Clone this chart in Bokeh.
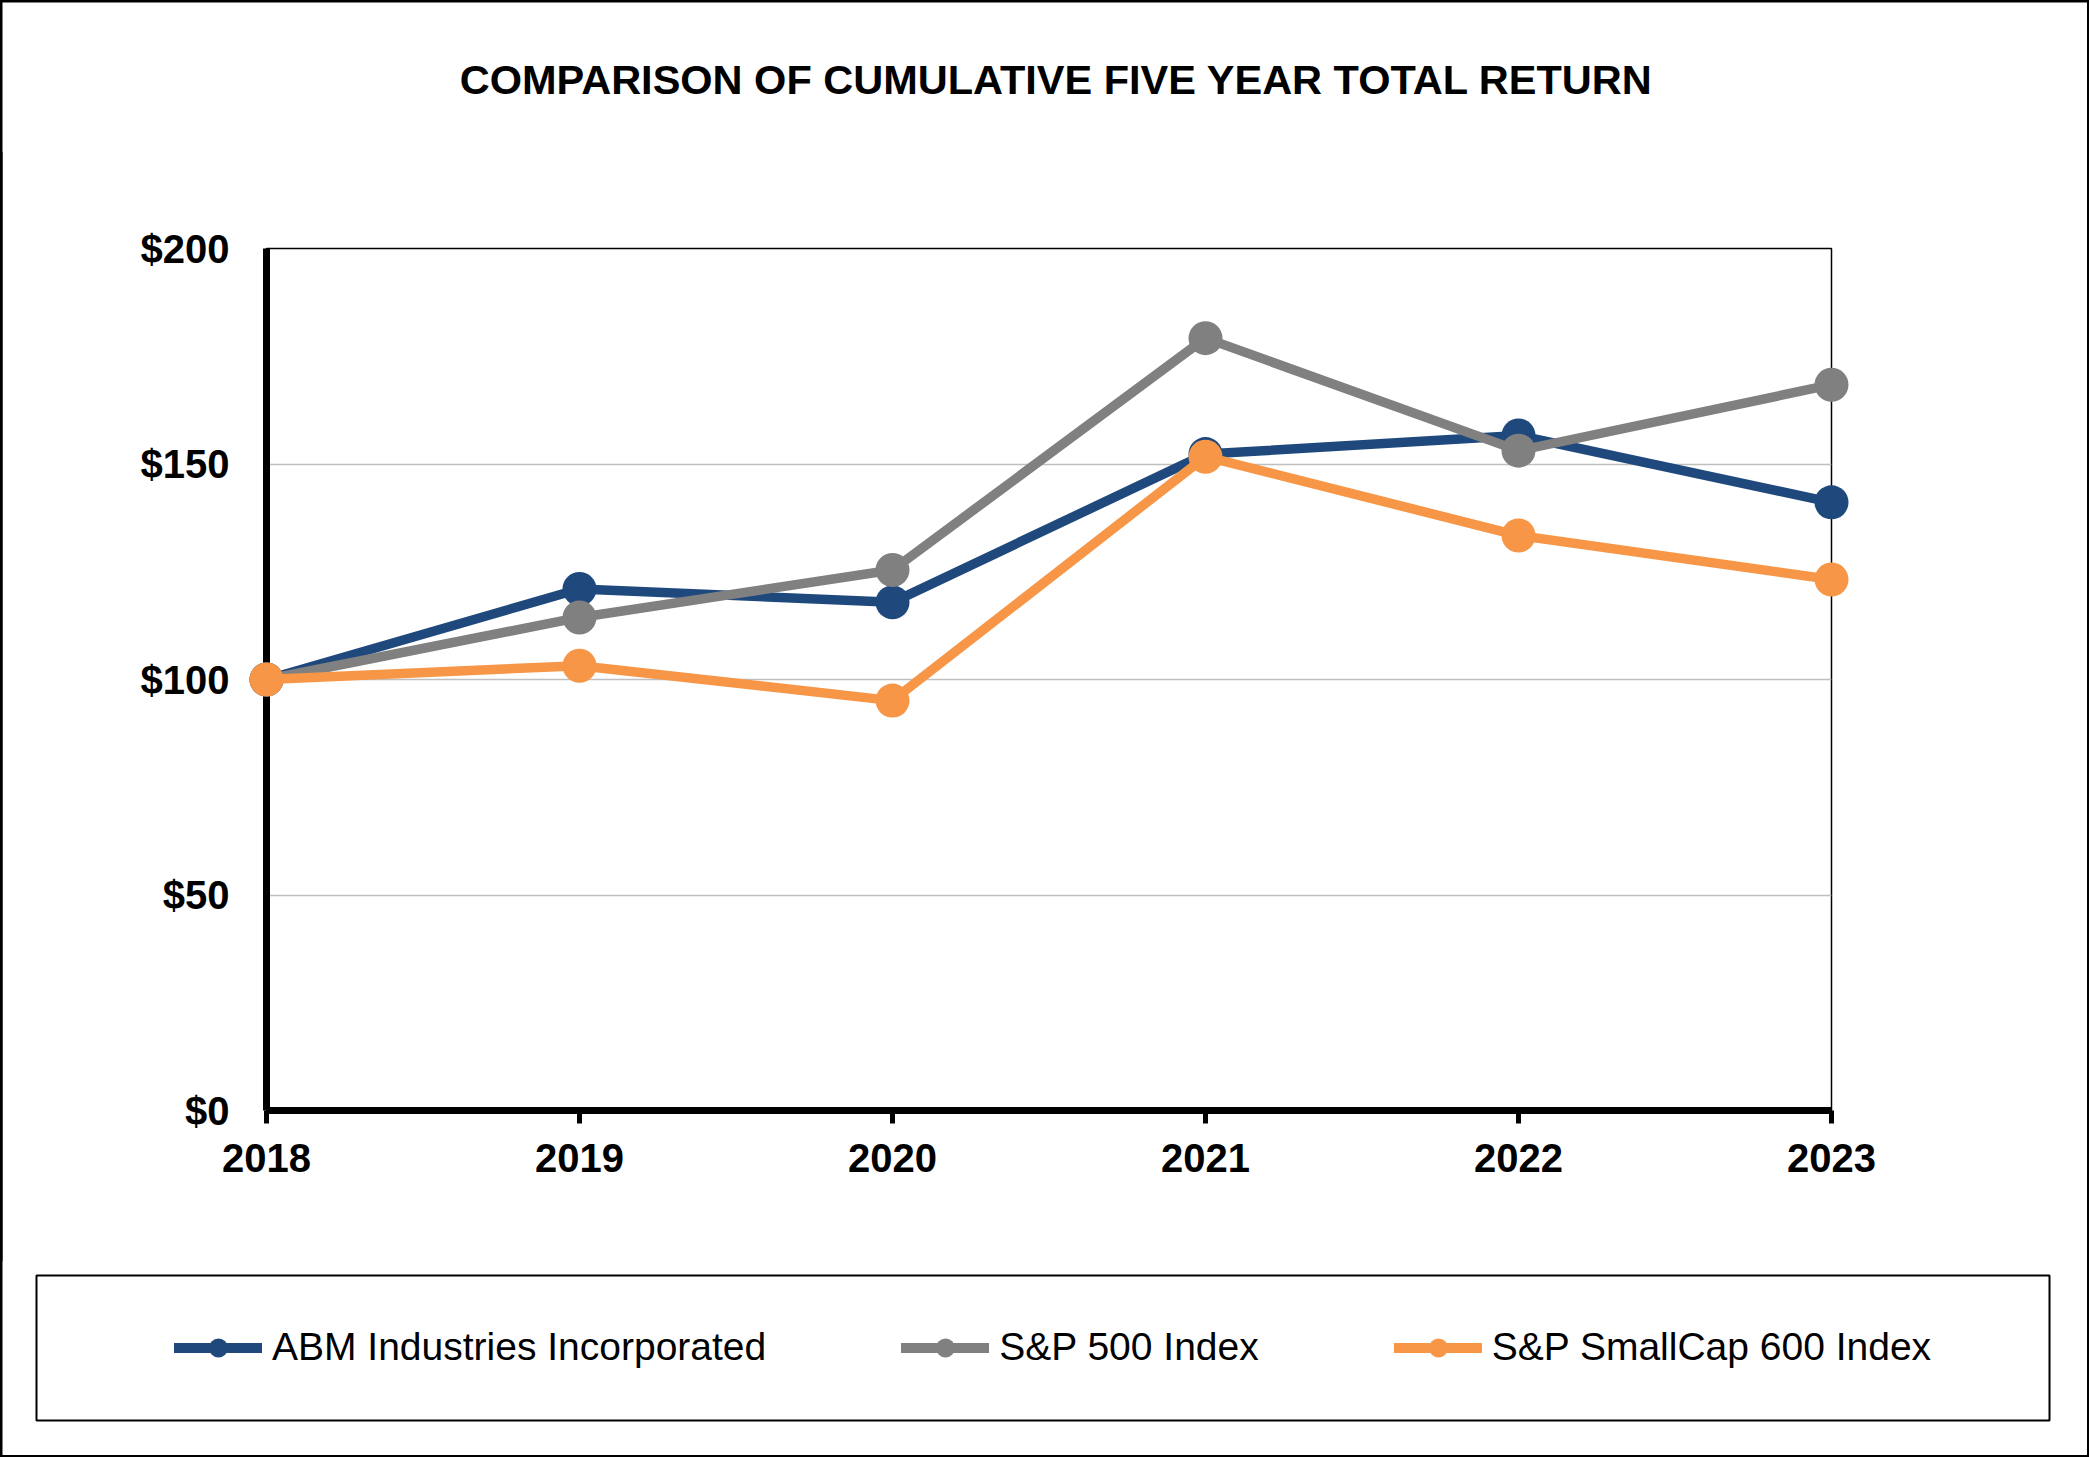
from bokeh.plotting import figure
from bokeh.layouts import column
from bokeh.models import (Range1d, FixedTicker, PrintfTickFormatter, BasicTickFormatter,
                          Legend, LegendItem, Label, BoxAnnotation, ColumnDataSource)
from bokeh.embed import file_html
from bokeh.resources import INLINE

# ---- data ----
years = [2018, 2019, 2020, 2021, 2022, 2023]
abm = [100.0, 121.0, 117.9, 152.3, 156.6, 141.1]
sp500 = [100.0, 114.4, 125.4, 179.2, 153.1, 168.4]
sp600 = [100.0, 103.2, 95.1, 151.7, 133.4, 123.2]
series_names = ["ABM Industries Incorporated", "S&P 500 Index", "S&P SmallCap 600 Index"]
series_colors = ["#1F497D", "#808080", "#F79646"]
y_ticks = [0, 50, 100, 150, 200]
title_text = "COMPARISON OF CUMULATIVE FIVE YEAR TOTAL RETURN"

FONT = "Liberation Sans"
B = 2                      # outer border thickness (black column background)
OV = 1                     # overlap between stacked panels (hides seams)
W = 2089 - 2 * B           # width of each panel
H0 = 150                   # title panel
H1 = 1111                  # chart panel
top0 = B + H0 - OV         # picture y of chart panel top
top2 = top0 + H1 - OV      # picture y of legend panel top
H2 = 1457 - B - top2       # legend panel


def blank_panel(h):
    f = figure(width=W, height=h, output_backend="svg", toolbar_location=None,
               x_axis_type=None, y_axis_type=None,
               x_range=Range1d(0, 1), y_range=Range1d(0, 1),
               min_border=0, background_fill_color="white", border_fill_color="white")
    f.frame_align = False
    f.xgrid.visible = False
    f.ygrid.visible = False
    f.outline_line_color = None
    return f


# ---------------- title panel ----------------
p0 = blank_panel(H0)
p0.margin = (B, B, 0, B)
p0.add_layout(Label(x=1054, y=73.5, x_units="screen", y_units="screen", text=title_text,
                    text_align="center", text_baseline="alphabetic", text_font=FONT,
                    text_font_size="41.5px", text_font_style="bold", text_color="black"))

# ---------------- chart ----------------
p = figure(width=W, height=H1, output_backend="svg", toolbar_location=None,
           x_range=Range1d(years[0], years[-1]), y_range=Range1d(y_ticks[0], y_ticks[-1]),
           min_border_left=266 - B, min_border_right=W - (1831 - B),
           min_border_top=248 - top0, min_border_bottom=(top0 + H1) - 1110,
           background_fill_color="white", border_fill_color="white")
p.margin = (-OV, B, 0, B)

p.xaxis.ticker = FixedTicker(ticks=years)
p.xaxis.formatter = BasicTickFormatter(use_scientific=False)
p.yaxis.ticker = FixedTicker(ticks=y_ticks)
p.yaxis.formatter = PrintfTickFormatter(format="$%d")
for ax in (p.xaxis[0], p.yaxis[0]):
    ax.axis_line_color = "black"
    ax.axis_line_width = 7
    ax.major_label_text_font = FONT
    ax.major_label_text_font_size = "40px"
    ax.major_label_text_font_style = "bold"
    ax.major_label_text_color = "black"
    ax.minor_tick_line_color = None
p.yaxis.major_tick_line_color = None
p.yaxis.major_tick_out = 0
p.yaxis.major_tick_in = 0
p.yaxis.major_label_standoff = 37
p.xaxis.major_tick_line_color = "black"
p.xaxis.major_tick_line_width = 5
p.xaxis.major_tick_out = 13
p.xaxis.major_tick_in = 0
p.xaxis.major_label_standoff = 20

p.xgrid.visible = False
p.ygrid.ticker = FixedTicker(ticks=y_ticks)
p.ygrid.grid_line_color = "#BFBFBF"
p.ygrid.grid_line_width = 1.5
p.outline_line_color = "black"
p.outline_line_width = 1.5
p.outline_line_alpha = 1

series = [abm, sp500, sp600]
for vals, color in zip(series, series_colors):
    src = ColumnDataSource(dict(x=years, y=vals))
    p.line("x", "y", source=src, line_color=color, line_width=9.5,
           line_join="round", line_cap="round", level="overlay")
    p.scatter("x", "y", source=src, size=34, fill_color=color, line_color=None,
              level="overlay")

# ---------------- legend panel ----------------
p2 = blank_panel(H2)
p2.margin = (-OV, B, B, B)
items = []
for vals, name, color in zip(series, series_names, series_colors):
    # legend keys only: their points lie outside this panel's 0..1 ranges
    src = ColumnDataSource(dict(x=years, y=vals))
    ln = p2.line("x", "y", source=src, line_color=color, line_width=10,
                 line_join="round", line_cap="round")
    sc = p2.scatter("x", "y", source=src, size=20, fill_color=color, line_color=None)
    items.append(LegendItem(label=name, renderers=[ln, sc]))

legend = Legend(items=items, orientation="horizontal",
                location=(174 - B, H2 - (1347 - top2) - 23.5),
                glyph_width=88, glyph_height=47, label_height=47, label_standoff=10,
                spacing=135, padding=0, margin=0, border_line_color=None,
                background_fill_alpha=0, label_text_font=FONT,
                label_text_font_size="39px", label_text_color="black")
p2.add_layout(legend, "center")

p2.add_layout(BoxAnnotation(left=36 - B, right=2049 - B,
                            top=H2 - (1275 - top2), bottom=H2 - (1420 - top2),
                            left_units="screen", right_units="screen",
                            top_units="screen", bottom_units="screen",
                            fill_alpha=0, fill_color=None, line_color="black",
                            line_alpha=1, line_width=2))

layout = column(p0, p, p2, spacing=0, styles={"background-color": "black"})

open("out.html", "w").write(file_html(layout, INLINE))
